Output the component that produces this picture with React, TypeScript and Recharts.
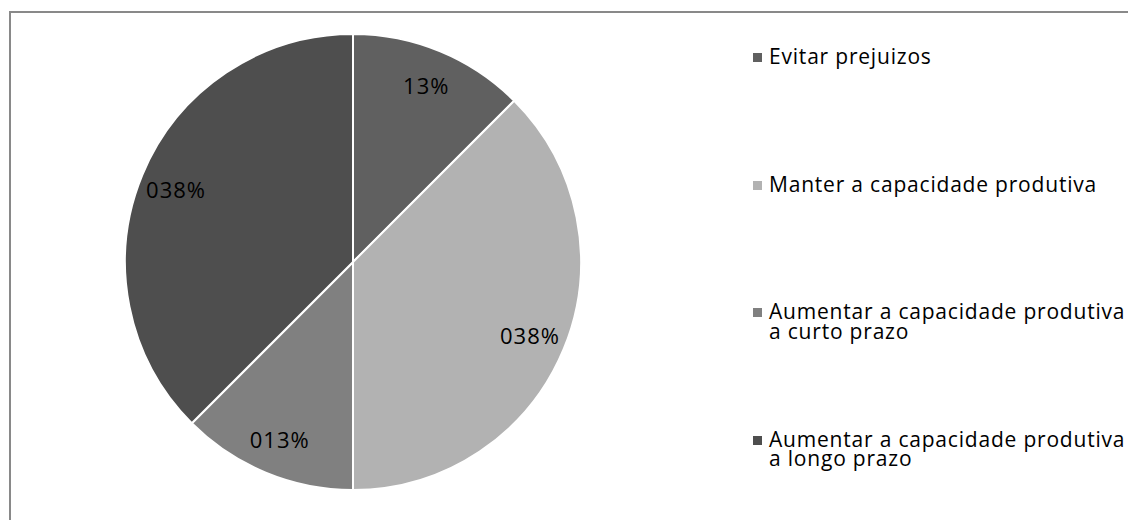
import { PieChart, Pie, Cell, Legend } from "recharts"

const categories = [
  "Evitar prejuizos",
  "Manter a capacidade produtiva",
  "Aumentar a capacidade produtiva a curto prazo",
  "Aumentar a capacidade produtiva a longo prazo",
]
const legendLines = [
  ["Evitar prejuizos"],
  ["Manter a capacidade produtiva"],
  ["Aumentar a capacidade produtiva", "a curto prazo"],
  ["Aumentar a capacidade produtiva", "a longo prazo"],
]
const values = [12.5, 37.5, 12.5, 37.5]
const valueLabels = ["13%", "038%", "013%", "038%"]
const colors = ["#606060", "#b2b2b2", "#808080", "#4e4e4e"]

const data = categories.map((name, i) => ({ name, value: values[i] }))

const FONT = "'Open Sans', 'Noto Sans', sans-serif"
const RAD = Math.PI / 180

const renderLabel = (props: any) => {
  const { cx, cy, midAngle, outerRadius, index } = props
  const r = outerRadius * 0.84
  const x = cx + r * Math.cos(-midAngle * RAD)
  const y = cy + r * Math.sin(-midAngle * RAD)
  return (
    <text x={x} y={y} fill="#000" fontSize={22} letterSpacing={1} fontFamily={FONT} textAnchor="middle" dominantBaseline="central">
      {valueLabels[index]}
    </text>
  )
}

const renderLegend = () => (
  <div style={{ fontFamily: FONT, fontSize: 21, letterSpacing: "0.8px", color: "#000" }}>
    {legendLines.map((lines, i) => (
      <div key={i} style={{ height: 127.5, position: "relative" }}>
        <span
          style={{
            position: "absolute",
            left: 0,
            top: 6,
            width: 9,
            height: 9,
            background: colors[i],
          }}
        />
        <div style={{ marginLeft: 16 }}>
          {lines.map((l, j) => (
            <div key={j} style={{ height: 19.5, lineHeight: "19.5px", whiteSpace: "nowrap" }}>{l}</div>
          ))}
        </div>
      </div>
    ))}
  </div>
)

export default function App() {
  return (
    <div style={{ marginTop: 3, marginLeft: 1, width: 1140, height: 520, border: "2px solid #898989", boxSizing: "border-box" }}>
      <PieChart width={1136} height={516}>
        <Pie
          data={data}
          dataKey="value"
          nameKey="name"
          cx={337}
          cy={244}
          outerRadius={228}
          startAngle={90}
          endAngle={-270}
          stroke="#ffffff"
          strokeWidth={2}
          label={renderLabel}
          labelLine={false}
          isAnimationActive={false}
        >
          {data.map((d, i) => (
            <Cell key={d.name} fill={colors[i]} />
          ))}
        </Pie>
        <Legend
          layout="vertical"
          verticalAlign="top"
          align="right"
          wrapperStyle={{ left: 742, top: 34, width: 390 }}
          content={renderLegend}
        />
      </PieChart>
    </div>
  )
}
